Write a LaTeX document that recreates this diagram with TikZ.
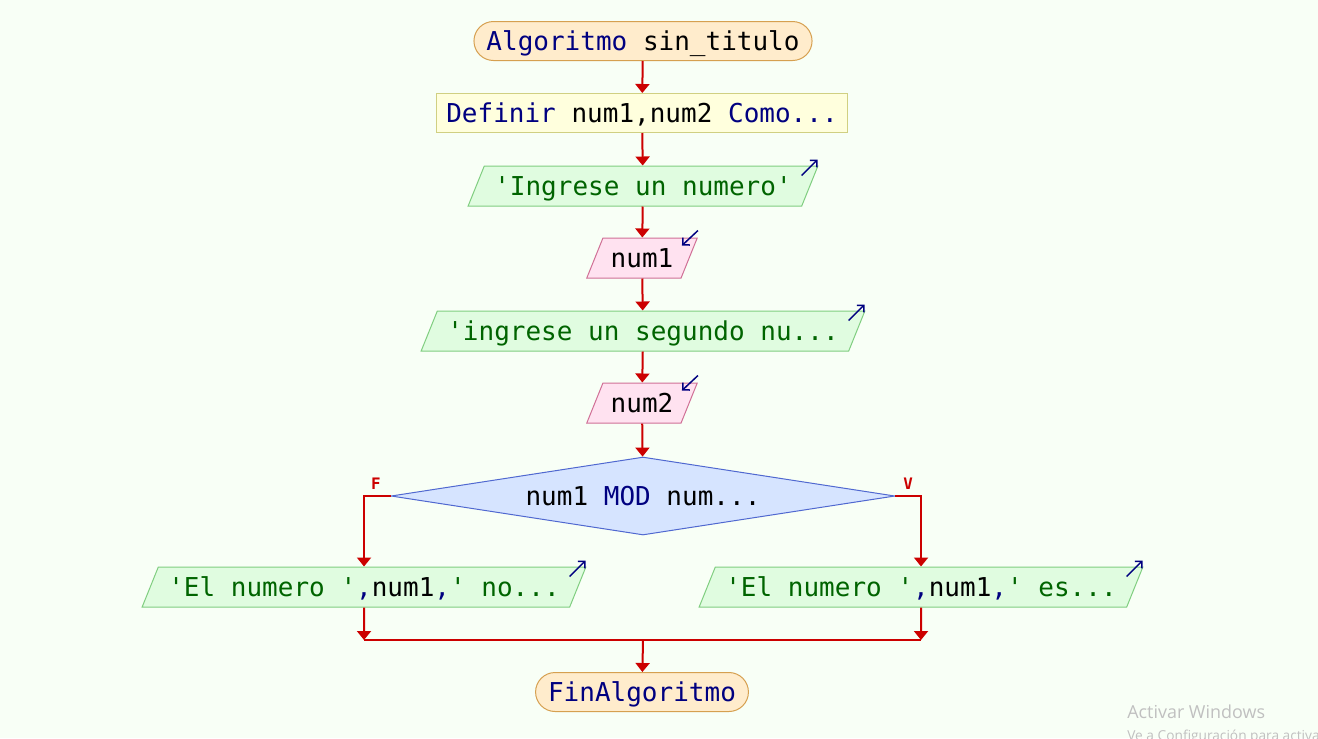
\documentclass[tikz,border=0pt]{standalone}
\usepackage{fontspec}
\setmonofont{DejaVu Sans Mono}
\newfontfamily\avisofont{Open Sans}
\usetikzlibrary{shapes.geometric,arrows.meta}

\definecolor{fondo}{RGB}{248,255,246}
\definecolor{rojo}{RGB}{204,0,0}
\definecolor{azulclave}{RGB}{0,0,128}
\definecolor{verdecad}{RGB}{0,100,0}
\definecolor{rellenoterm}{RGB}{255,236,204}
\definecolor{bordeterm}{RGB}{214,160,80}
\definecolor{rellenodef}{RGB}{255,255,221}
\definecolor{bordedef}{RGB}{208,208,130}
\definecolor{rellenosal}{RGB}{224,252,224}
\definecolor{bordesal}{RGB}{128,206,128}
\definecolor{rellenoent}{RGB}{255,226,240}
\definecolor{bordeent}{RGB}{208,112,150}
\definecolor{rellenodec}{RGB}{214,228,255}
\definecolor{bordedec}{RGB}{80,104,208}
\definecolor{grisaviso}{RGB}{192,192,192}

\newcommand{\clave}[1]{\textcolor{azulclave}{#1}}
\newcommand{\cadena}[1]{\textcolor{verdecad}{#1}}

\tikzset{
  base/.style={font=\ttfamily\fontsize{14.8pt}{17pt}\selectfont, line width=0.02cm,
    text height=0.42cm, text depth=0.04cm, inner ysep=0.16cm},
  terminal/.style={base, draw=bordeterm, fill=rellenoterm, rounded corners=0.39cm,
    inner xsep=0.25cm},
  defbox/.style={base, draw=bordedef, fill=rellenodef, inner xsep=0.19cm},
  es/.style={base, trapezium, trapezium left angle=68, trapezium right angle=112,
    inner ysep=0.17cm},
  salida/.style={es, draw=bordesal, fill=rellenosal, inner xsep=0.2cm},
  entrada/.style={es, draw=bordeent, fill=rellenoent, inner xsep=0.155cm},
  decision/.style={base, diamond, aspect=6.46, minimum width=10.08cm, minimum height=1.56cm,
    inner sep=0pt, draw=bordedec, fill=rellenodec},
  flujo/.style={draw=rojo, line width=0.04cm, -{Triangle[width=0.28cm,length=0.18cm]}},
  linea/.style={draw=rojo, line width=0.04cm},
  flechaes/.style={draw=azulclave, line width=0.03cm, -{Straight Barb[length=0.1cm,width=0.2cm]}},
  etiq/.style={text=rojo, font=\ttfamily\bfseries\fontsize{9pt}{10pt}\selectfont, inner sep=0pt}
}

\begin{document}
\begin{tikzpicture}[x=0.02cm,y=-0.02cm]
  \useasboundingbox (0,0) rectangle (1318,738);
  \clip (0,0) rectangle (1318,738);
  \fill[fondo] (0,0) rectangle (1318,738);

  \node (ini) [terminal] at (643,41) {\clave{Algoritmo} sin\_titulo};
  \node (def) [defbox] at (642,113) {\clave{Definir} num1,num2 \clave{Como...}};
  \node (o1) [salida] at (643,186) {\cadena{'Ingrese un numero'}};
  \node (i1) [entrada] at (642,258) {num1};
  \node (o2) [salida] at (643,331) {\cadena{'ingrese un segundo nu...}};
  \node (i2) [entrada] at (642,403) {num2};
  \node (dec) [decision] at (643,496) {num1 \clave{MOD} num...};
  \node (o3) [salida] at (364,587) {\cadena{'El numero '}\clave{,}num1\clave{,}\cadena{' no...}};
  \node (o4) [salida] at (921,587) {\cadena{'El numero '}\clave{,}num1\clave{,}\cadena{' es...}};
  \coordinate (jn) at (643,640);
  \node (fin) [terminal] at (642,692) {\clave{FinAlgoritmo}};

  \draw[flujo] (ini) -- (def);
  \draw[flujo] (def) -- (o1);
  \draw[flujo] (o1) -- (i1);
  \draw[flujo] (i1) -- (o2);
  \draw[flujo] (o2) -- (i2);
  \draw[flujo] (i2) -- (dec);
  \draw[flujo] (dec.west) -| (o3.north);
  \draw[flujo] (dec.east) -| (o4.north);
  \node (lf) [etiq] at ([shift={(12,-12)}]o3 |- dec) {F};
  \node (lv) [etiq] at ([shift={(-13,-12)}]o4 |- dec) {V};
  \draw[flujo] (o3.south) -- (o3 |- jn);
  \draw[flujo] (o4.south) -- (o4 |- jn);
  \draw[linea] (o3 |- jn) -- (o4 |- jn);
  \draw[flujo] (jn) -- (fin);

  \draw[flechaes] ([shift={(-17,10)}]o1.top right corner) -- ++(16,-16);
  \draw[flechaes] ([shift={(0,-7)}]i1.top right corner) -- ++(-16,15);
  \draw[flechaes] ([shift={(-17,10)}]o2.top right corner) -- ++(16,-16);
  \draw[flechaes] ([shift={(0,-7)}]i2.top right corner) -- ++(-16,15);
  \draw[flechaes] ([shift={(-17,10)}]o3.top right corner) -- ++(16,-16);
  \draw[flechaes] ([shift={(-17,10)}]o4.top right corner) -- ++(16,-16);

  \node (aviso) [anchor=base west, text=grisaviso, inner sep=0pt,
    font=\avisofont\fontsize{10.2pt}{12pt}\selectfont] at (1127,718) {Activar Windows};
  \node (aviso2) [anchor=base west, text=grisaviso, inner sep=0pt,
    font=\avisofont\fontsize{7.8pt}{9pt}\selectfont] at (1127,740) {Ve a Configuración para activar Windows.};
\end{tikzpicture}
\end{document}
